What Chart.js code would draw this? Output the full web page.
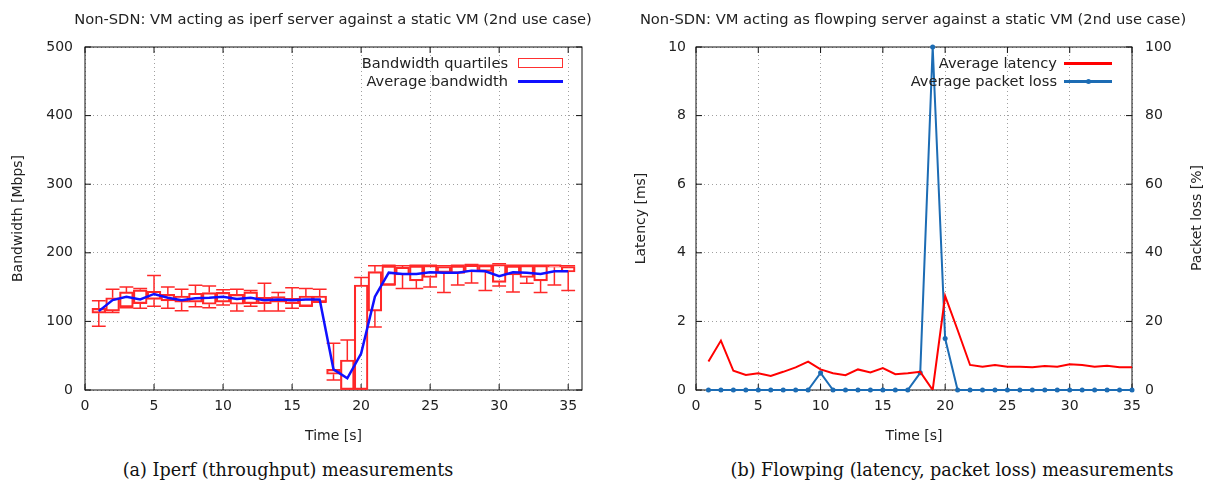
<!DOCTYPE html>
<html><head><meta charset="utf-8">
<script src="https://cdn.jsdelivr.net/npm/chart.js@4.4.0/dist/chart.umd.min.js"></script>
<style>
html,body{margin:0;padding:0;background:#fff;}
body{width:1207px;height:486px;position:relative;overflow:hidden;font-family:"DejaVu Sans",sans-serif;color:#222;}
canvas{position:absolute;top:0;}
.t{position:absolute;font-size:14px;white-space:nowrap;line-height:16px;}
.tt{font-size:14.7px;}
.c{transform:translate(-50%,-50%);}
.cap{position:absolute;font-family:"DejaVu Serif",serif;font-size:17.6px;white-space:nowrap;transform:translate(-50%,-50%);color:#111;}
.lr{position:absolute;font-size:14.6px;white-space:nowrap;line-height:16px;text-align:right;}
.sw{position:absolute;box-sizing:border-box;}
</style></head><body>
<canvas id="c1" width="600" height="450" style="left:0;width:600px;height:450px"></canvas>
<canvas id="c2" width="607" height="450" style="left:600px;width:607px;height:450px"></canvas>

<div class="t tt c" style="left:333px;top:19px">Non-SDN: VM acting as iperf server against a static VM (2nd use case)</div>
<div class="t tt c" style="left:913px;top:19px">Non-SDN: VM acting as flowping server against a static VM (2nd use case)</div>

<div class="lr" style="right:699px;top:55px">Bandwidth quartiles</div>
<div class="sw" style="left:518px;top:58px;width:45px;height:10px;border:1.5px solid #ff3030"></div>
<div class="lr" style="right:699px;top:73px">Average bandwidth</div>
<div class="sw" style="left:518px;top:80px;width:45px;height:2.5px;background:#1010ff"></div>

<div class="lr" style="right:150px;top:55px">Average latency</div>
<div class="sw" style="left:1064px;top:62px;width:48px;height:2.5px;background:#ff0000"></div>
<div class="lr" style="right:150px;top:73px">Average packet loss</div>
<div class="sw" style="left:1064px;top:80px;width:48px;height:2.5px;background:#1c6cb4"></div>
<div class="sw" style="left:1085.5px;top:78.5px;width:5px;height:5px;border-radius:50%;background:#1c6cb4"></div>

<div class="t c" style="left:1196px;top:218px;transform:translate(-50%,-50%) rotate(-90deg)">Packet loss [%]</div>

<div class="cap" style="left:288px;top:470px">(a) Iperf (throughput) measurements</div>
<div class="cap" style="left:952px;top:470px">(b) Flowping (latency, packet loss) measurements</div>

<script>
// ---------- Data: left panel (iperf bandwidth, Mbps) ----------
const timeBw = [1,2,3,4,5,6,7,8,9,10,11,12,13,14,15,16,17,18,19,20,21,22,23,24,25,26,27,28,29,30,31,32,33,34,35];
const bwMin  = [93,113,120,119,122,119,115.5,121.5,120,124,115,122,115,115,119,122,128,14.6,0,0,92,153,148,148,150,142,153,156,145,151.6,143,155.5,142,153,145];
const bwQ1   = [112,115,121,126,132,130,128,128,125,128,125,126,126,128,126,122,128,23,0,0,115,153,167.6,159,164,171,170,172,173,157,167.6,164,159,179,172];
const bwQ3   = [119,134.5,143,146,144,139.5,137,141,142,142.3,139.5,143,135,136,133.6,137,137,30,43.7,153,172.5,181,179,181,181.6,180,181,182,181.6,183,181,181.6,181.6,181,180];
const bwMax  = [130,147,150,148,167,150,147,152.6,151.6,146,147,145,155.5,142,149,148,147,68,73,164,181,182,181,182,182,181,182,183,182,184,182,182,182,182,181];
const bwAvg  = [115,131,136,132,140,134.5,131,133.6,134.5,136,132.6,134.5,131,132,131,132,132,30,17,53,136,171,169,169,171.5,171,171,174,173,166,171.5,171,169,173,173];

// ---------- Data: right panel (flowping) ----------
const timeFp = [1,2,3,4,5,6,7,8,9,10,11,12,13,14,15,16,17,18,19,20,21,22,23,24,25,26,27,28,29,30,31,32,33,34,35];
const latency = [0.83,1.44,0.56,0.44,0.49,0.41,0.53,0.66,0.83,0.60,0.49,0.43,0.60,0.51,0.64,0.46,0.49,0.53,0,2.74,1.75,0.73,0.68,0.73,0.68,0.68,0.66,0.70,0.68,0.75,0.73,0.68,0.71,0.66,0.66];
const packetLoss = [0,0,0,0,0,0,0,0,0,5,0,0,0,0,0,0,0,5,100,15,0,0,0,0,0,0,0,0,0,0,0,0,0,0,0];

// ---------- Tick labels ----------
const xTicks = [0,5,10,15,20,25,30,35];
const bwTicks = [0,100,200,300,400,500];
const latTicks = [0,2,4,6,8,10];
const lossTicks = [0,20,40,60,80,100];

Chart.defaults.font.family = '"DejaVu Sans", sans-serif';
Chart.defaults.font.size = 14;
Chart.defaults.color = '#222';
Chart.defaults.animation = false;

const GRID = '#a0a0a0';

const framePlugin = {
  id: 'frame',
  beforeDatasetsDraw(chart, args, opts) {
    const {ctx, chartArea: a} = chart;
    const L = 6;
    ctx.save();
    ctx.strokeStyle = '#111';
    ctx.lineWidth = 1;
    ctx.strokeRect(a.left, a.top, a.right - a.left, a.bottom - a.top);
    ctx.beginPath();
    const xs = chart.scales.x;
    xs.ticks.forEach(t => {
      const p = xs.getPixelForValue(t.value);
      ctx.moveTo(p, a.bottom); ctx.lineTo(p, a.bottom - L);
      ctx.moveTo(p, a.top); ctx.lineTo(p, a.top + L);
    });
    const ys = chart.scales.y;
    ys.ticks.forEach(t => {
      const p = ys.getPixelForValue(t.value);
      ctx.moveTo(a.left, p); ctx.lineTo(a.left + L, p);
      if (opts.mirrorY) { ctx.moveTo(a.right, p); ctx.lineTo(a.right - L, p); }
    });
    if (chart.scales.y2) {
      const y2 = chart.scales.y2;
      y2.ticks.forEach(t => {
        const p = y2.getPixelForValue(t.value);
        ctx.moveTo(a.right, p); ctx.lineTo(a.right - L, p);
      });
    }
    ctx.stroke();
    ctx.restore();
  }
};

function keepTicks(list) {
  return function(scale) { scale.ticks = list.map(v => ({value: v})); };
}

// Whisker segments built from the quartile arrays
const whiskerData = [];
timeBw.forEach((x, i) => {
  whiskerData.push({x, y: bwQ3[i]}, {x, y: bwMax[i]}, {x, y: null});
  whiskerData.push({x, y: bwQ1[i]}, {x, y: bwMin[i]}, {x, y: null});
  whiskerData.push({x: x - 0.5, y: bwMax[i]}, {x: x + 0.5, y: bwMax[i]}, {x, y: null});
  whiskerData.push({x: x - 0.5, y: bwMin[i]}, {x: x + 0.5, y: bwMin[i]}, {x, y: null});
});

new Chart(document.getElementById('c1'), {
  type: 'bar',
  data: {
    datasets: [
      {
        type: 'line', label: 'Average bandwidth', order: 0,
        data: timeBw.map((x, i) => ({x, y: bwAvg[i]})),
        borderColor: '#1010ff', borderWidth: 2.5, pointRadius: 0, tension: 0
      },
      {
        type: 'line', label: 'whiskers', order: 1,
        data: whiskerData, spanGaps: false,
        borderColor: '#ff2828', borderWidth: 1.5, pointRadius: 0, tension: 0
      },
      {
        type: 'bar', label: 'Bandwidth quartiles', order: 2,
        data: timeBw.map((x, i) => ({x, y: [bwQ1[i], bwQ3[i]]})),
        backgroundColor: 'rgba(0,0,0,0)', borderColor: '#ff2828', borderWidth: 1.5,
        borderSkipped: false, barPercentage: 1, categoryPercentage: 1
      }
    ]
  },
  options: {
    responsive: false,
    layout: {padding: {left: 0, top: 47, right: 18, bottom: 0}},
    plugins: {legend: {display: false}, tooltip: {enabled: false}, frame: {mirrorY: true}},
    scales: {
      x: {
        type: 'linear', min: 0, max: 36, offset: false,
        afterBuildTicks: keepTicks(xTicks),
        afterFit(s) { s.height = 60; },
        grid: {color: GRID, drawTicks: false, offset: false},
        border: {display: false, dash: [1, 3]},
        ticks: {padding: 8},
        title: {display: true, text: 'Time [s]', padding: {top: 0, bottom: 5.6}}
      },
      y: {
        type: 'linear', min: 0, max: 500,
        afterBuildTicks: keepTicks(bwTicks),
        afterFit(s) { s.width = 85; },
        grid: {color: GRID, drawTicks: false},
        border: {display: false, dash: [1, 3]},
        ticks: {padding: 12},
        title: {display: true, text: 'Bandwidth [Mbps]', padding: {top: 9.6, bottom: 0}}
      }
    }
  },
  plugins: [framePlugin]
});

new Chart(document.getElementById('c2'), {
  type: 'line',
  data: {
    datasets: [
      {
        label: 'Average latency', yAxisID: 'y',
        data: timeFp.map((x, i) => ({x, y: latency[i]})),
        borderColor: '#ff0000', borderWidth: 2, pointRadius: 0, tension: 0
      },
      {
        label: 'Average packet loss', yAxisID: 'y2', clip: 6,
        data: timeFp.map((x, i) => ({x, y: packetLoss[i]})),
        borderColor: '#1c6cb4', borderWidth: 2, pointRadius: 2.5, pointBorderWidth: 0,
        pointBackgroundColor: '#1c6cb4', tension: 0
      }
    ]
  },
  options: {
    responsive: false,
    layout: {padding: {left: 0, top: 47, right: 0, bottom: 0}},
    plugins: {legend: {display: false}, tooltip: {enabled: false}, frame: {mirrorY: false}},
    scales: {
      x: {
        type: 'linear', min: 0, max: 35,
        afterBuildTicks: keepTicks(xTicks),
        afterFit(s) { s.height = 60; },
        grid: {color: GRID, drawTicks: false},
        border: {display: false, dash: [1, 3]},
        ticks: {padding: 8},
        title: {display: true, text: 'Time [s]', padding: {top: 0, bottom: 5.6}}
      },
      y: {
        type: 'linear', position: 'left', min: 0, max: 10,
        afterBuildTicks: keepTicks(latTicks),
        afterFit(s) { s.width = 96; },
        grid: {color: GRID, drawTicks: false},
        border: {display: false, dash: [1, 3]},
        ticks: {padding: 10},
        title: {display: true, text: 'Latency [ms]', padding: {top: 32.6, bottom: 0}}
      },
      y2: {
        type: 'linear', position: 'right', min: 0, max: 100,
        afterBuildTicks: keepTicks(lossTicks),
        afterFit(s) { s.width = 75; },
        grid: {display: false, drawTicks: false},
        border: {display: false},
        ticks: {padding: 13}
      }
    }
  },
  plugins: [framePlugin]
});
</script>
</body></html>
